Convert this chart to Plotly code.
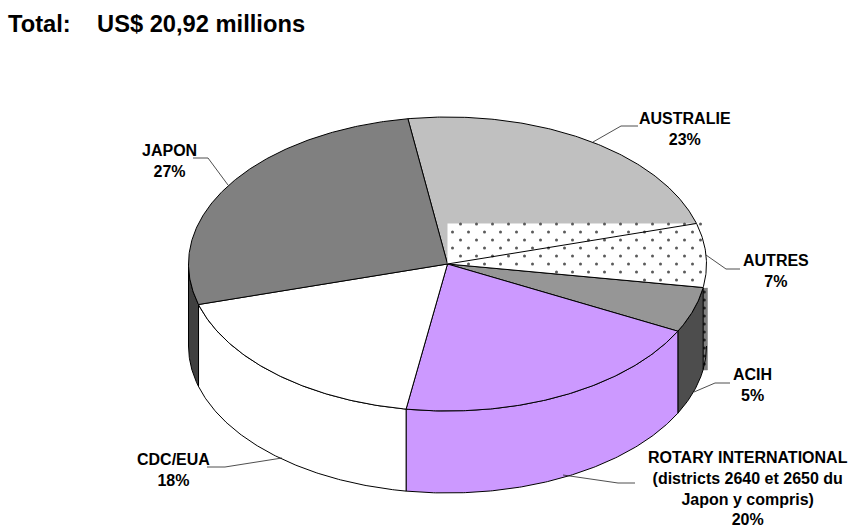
import numpy as np
import plotly.graph_objects as go

# Funding shares, clockwise from the top of the pie
labels = ["AUSTRALIE", "AUTRES", "ACIH", "ROTARY INTERNATIONAL", "CDC/EUA", "JAPON"]
values = [23, 7, 5, 20, 18, 27]
top_colors = ["#c0c0c0", "#ffffff", "#969696", "#cc99ff", "#ffffff", "#808080"]
side_colors = ["#808080", "#808080", "#4d4d4d", "#cc99ff", "#ffffff", "#404040"]

title_text = "Total:&nbsp;&nbsp;&nbsp;&nbsp;US$ 20,92 millions"
label_texts = [
    "AUSTRALIE<br>23%",
    "AUTRES<br>7%",
    "ACIH<br>5%",
    "ROTARY INTERNATIONAL<br>(districts 2640 et 2650 du<br>Japon y compris)<br>20%",
    "CDC/EUA<br>18%",
    "JAPON<br>27%",
]
label_x = [685, 776, 752, 748, 173, 169]
label_y = [128.5, 271, 385, 488, 470, 160.5]
leader_x = [[638, 621, 593], [740, 726, 706], [730, 715, 694], [635, 618, 563], [207, 225, 282], [193, 208, 228]]
leader_y = [[126, 126, 142], [269, 269, 255], [383, 383, 392], [483, 483, 475], [467, 467, 458], [158, 158, 185]]

# Pie projection in page units
CX, CY, RX, RY, DEPTH = 447.5, 264.0, 259.0, 147.0, 82.0
START_DEG = -8.8
FONT = "Liberation Sans, Arial, sans-serif"


def rim(t0, t1, drop=0.0):
    t = np.radians(np.linspace(t0, t1, max(int(abs(t1 - t0)) * 2, 2) + 1))
    return CX + RX * np.sin(t), CY - RY * np.cos(t) + drop


def polygon(x, y, fill, line="#000000", width=1.0):
    return go.Scatter(
        x=list(x), y=list(y), mode="lines", fill="toself", fillcolor=fill,
        line=dict(color=line, width=width), hoverinfo="skip", showlegend=False,
    )


bounds = START_DEG + np.concatenate([[0], np.cumsum(values)]) * 3.6
fig = go.Figure()

# Side strip of the dotted slice sits behind the neighbouring walls
a0, a1 = bounds[1], bounds[2]
sx0 = rim(a1, a1)[0][0] - 1
sx1 = CX + RX + 1
sy0 = rim(a1, a1)[1][0] + 0.5
sy1 = sy0 + DEPTH
fig.add_trace(polygon([sx0, sx1, sx1, sx0, sx0], [sy0, sy0, sy1, sy1, sy0], "#808080", "#808080", 0.5))
strip_y = np.arange(sy0 + 4, sy1, 8)
fig.add_trace(go.Scatter(
    x=np.full(strip_y.shape, (sx0 + sx1) / 2 - 0.5), y=strip_y, mode="markers",
    marker=dict(size=3, color="#222222"), hoverinfo="skip", showlegend=False,
))

# Front wall of the cylinder, only where a slice faces the viewer
for i in range(len(values)):
    t0, t1 = max(bounds[i], 90), min(bounds[i + 1], 270)
    if t1 <= t0 or i == 1:
        continue
    xt, yt = rim(t0, t1)
    xb, yb = rim(t1, t0, DEPTH)
    fig.add_trace(polygon(np.r_[xt, xb, xt[0]], np.r_[yt, yb, yt[0]], side_colors[i]))

# Right-hand edge of the wall beside the dotted slice
xw, yw = rim(90, a1, DEPTH)
fig.add_trace(go.Scatter(x=xw, y=yw, mode="lines", line=dict(color="#000000", width=1),
                         hoverinfo="skip", showlegend=False))

# Top faces
for i in range(len(values)):
    if i == 1:
        continue
    xt, yt = rim(bounds[i], bounds[i + 1])
    fig.add_trace(polygon(np.r_[CX, xt, CX], np.r_[CY, yt, CY], top_colors[i]))

# The dotted fill spreads over the bounding box of its slice, cut along the lower radius
box_top = rim(a0, a0)[1][0]
low_x, low_y = rim(a1, a1)
box_right = CX + RX
edge_y = CY + (low_y[0] - CY) * (box_right - CX) / (low_x[0] - CX)
fig.add_trace(go.Scatter(
    x=[CX, box_right, box_right, CX, CX], y=[box_top, box_top, edge_y, CY, box_top],
    mode="lines", fill="toself", fillcolor="#ffffff", line=dict(width=0),
    hoverinfo="skip", showlegend=False,
))
dot_x, dot_y = [], []
for row, yy in enumerate(np.arange(box_top + 0.5, edge_y, 8.0)):
    for xx in np.arange(CX + 13 - (row % 2) * 8, box_right, 16.0):
        if yy < CY + (low_y[0] - CY) * (xx - CX) / (low_x[0] - CX) - 1:
            dot_x.append(xx)
            dot_y.append(yy)
fig.add_trace(go.Scatter(
    x=dot_x, y=dot_y, mode="markers", marker=dict(size=3, color="#5a5a5a"),
    hoverinfo="skip", showlegend=False,
))

# Radii and rim of the dotted slice on top of its fill
xt, yt = rim(a0, a1)
fig.add_trace(go.Scatter(
    x=np.r_[CX, xt, CX], y=np.r_[CY, yt, CY], mode="lines",
    line=dict(color="#000000", width=1), hoverinfo="skip", showlegend=False,
))

# Leader lines
for lx, ly in zip(leader_x, leader_y):
    fig.add_trace(go.Scatter(x=lx, y=ly, mode="lines", line=dict(color="#222222", width=0.8),
                             hoverinfo="skip", showlegend=False))

for text, x, y in zip(label_texts, label_x, label_y):
    fig.add_annotation(x=x, y=y, text=f"<b>{text}</b>", showarrow=False, align="center",
                       xanchor="center", yanchor="middle",
                       font=dict(family=FONT, size=16, color="#000000"))

fig.add_annotation(x=6, y=24, text=f"<b>{title_text}</b>", showarrow=False, xanchor="left",
                   yanchor="middle", font=dict(family=FONT, size=23.7, color="#000000"))

fig.update_layout(
    width=851, height=527, margin=dict(l=0, r=0, t=0, b=0),
    paper_bgcolor="#ffffff", plot_bgcolor="#ffffff", showlegend=False,
    xaxis=dict(range=[0, 851], visible=False, fixedrange=True),
    yaxis=dict(range=[527, 0], visible=False, fixedrange=True),
)
fig.write_html("out.html", config=dict(displayModeBar=False))
